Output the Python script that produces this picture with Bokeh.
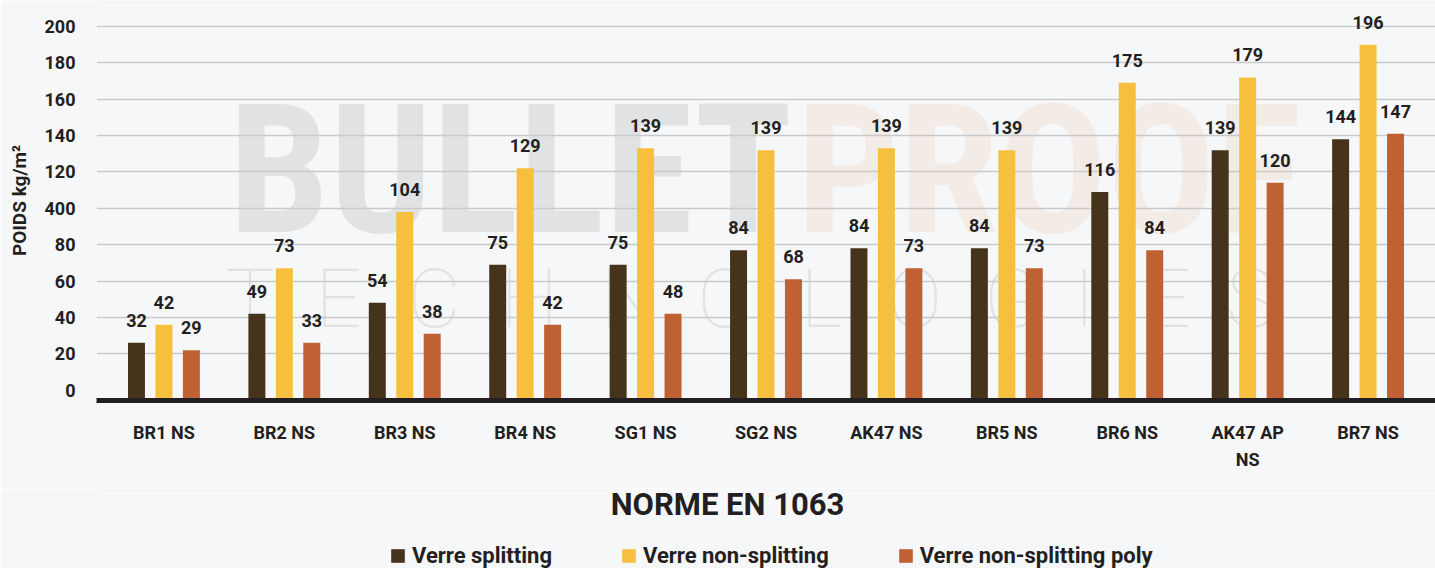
from bokeh.plotting import figure
from bokeh.layouts import column
from bokeh.models import (ColumnDataSource, FactorRange, Range1d, FixedTicker, LabelSet,
                          Label, Legend, LegendItem)
from bokeh.transform import dodge
from bokeh.core.properties import value
from bokeh.embed import file_html
from bokeh.resources import INLINE

# ---------------- data ----------------
categories = ["BR1 NS", "BR2 NS", "BR3 NS", "BR4 NS", "SG1 NS", "SG2 NS",
              "AK47 NS", "BR5 NS", "BR6 NS", "AK47 AP\nNS", "BR7 NS"]
series_names = ["Verre splitting", "Verre non-splitting", "Verre non-splitting poly"]

# bar heights as drawn
splitting = [26, 42, 48, 69, 69, 77, 78, 78, 109, 132, 138]
non_splitting = [36, 67, 98, 122, 133, 132, 133, 132, 169, 172, 190]
poly = [22, 26, 31, 36, 42, 61, 67, 67, 77, 114, 141]

# value labels as printed
splitting_labels = ["32", "49", "54", "75", "75", "84", "84", "84", "116", "139", "144"]
non_splitting_labels = ["42", "73", "104", "129", "139", "139", "139", "139", "175", "179", "196"]
poly_labels = ["29", "33", "38", "42", "48", "68", "73", "73", "84", "120", "147"]

y_ticks = [0, 20, 40, 60, 80, 100, 120, 140, 160, 180, 200]
y_tick_labels = ["0", "20", "40", "60", "80", "400", "120", "140", "160", "180", "200"]

y_axis_title = "POIDS kg/m²"
x_axis_title = "NORME EN 1063"
watermark_words = ["BULLET", "PROOF"]
watermark_sub = list("TECHNOLOGIES")

# ---------------- style ----------------
BG = "#f6f7f9"
TXT = "#231f20"
COLORS = ["#46331b", "#f7bf3e", "#c06133"]
FONT = "Roboto"
Y_MIN, Y_MAX = -5.7, 214.3
FRAME_LEFT = 96  # page x of the plot frame's left edge
W_TOTAL = 1435
FRAME_H = 400
BOTTOM = 88
H_FOOT = 80

src = ColumnDataSource(dict(cat=categories, s=splitting, n=non_splitting, p=poly,
                            sl=splitting_labels, nl=non_splitting_labels, pl=poly_labels))

p = figure(x_range=FactorRange(*categories, range_padding=0.0109),
           y_range=Range1d(Y_MIN, Y_MAX),
           width=W_TOTAL, frame_height=FRAME_H, output_backend="svg", toolbar_location=None,
           min_border_left=FRAME_LEFT, min_border_right=0, min_border_top=0, min_border_bottom=BOTTOM,
           background_fill_color=BG, border_fill_color=BG, outline_line_color=None)

# watermark (behind grid)
wm_colors = ["#e1e2e4", "#f3ebe5"]
wm_left = [228, 796]
for word, col, lx in zip(watermark_words, wm_colors, wm_left):
    p.add_layout(Label(x=lx - FRAME_LEFT, x_units="screen", y=120.8, y_units="data",
                       text=word, text_font="Roboto Condensed, Liberation Sans Narrow, DejaVu Sans Condensed, Roboto",
                       text_font_style="bold", text_font_size="180px", text_color=col,
                       text_align="left", text_baseline="alphabetic", level="image"))
sub_left = [225, 315, 407, 500, 600, 697, 800, 887, 983, 1073, 1144, 1226]
for ch, lx in zip(watermark_sub, sub_left):
    p.add_layout(Label(x=lx - FRAME_LEFT, x_units="screen", y=50.4, y_units="data",
                       text=ch, text_font="Roboto Thin, Lato Hairline, Lato Light, Roboto",
                       text_font_size="82px", text_color="#e1e2e4",
                       text_align="left", text_baseline="alphabetic", level="image"))

OFF = 0.228
W = 0.141
fields = ["s", "n", "p"]
lfields = ["sl", "nl", "pl"]
offsets = [-OFF, 0.0, OFF]
for f, lf, off, col in zip(fields, lfields, offsets, COLORS):
    p.vbar(x=dodge("cat", off, range=p.x_range), top=f, bottom=Y_MIN, width=W,
           source=src, fill_color=col, line_color=None)
    p.add_layout(LabelSet(x=dodge("cat", off, range=p.x_range), y=f, text=lf, source=src,
                          y_offset=16, text_align="center", text_baseline="alphabetic",
                          text_font=value(FONT), text_font_style="bold",
                          text_font_size="18px", text_color=TXT))

# grid
p.xgrid.visible = False
p.ygrid.ticker = FixedTicker(ticks=y_ticks[1:])
p.ygrid.grid_line_color = "#c8c9cb"
p.ygrid.grid_line_width = 1.5

# y axis
p.yaxis.ticker = FixedTicker(ticks=y_ticks)
p.yaxis.major_label_overrides = {t: lab for t, lab in zip(y_ticks, y_tick_labels)}
p.yaxis.axis_line_color = None
p.yaxis.major_tick_line_color = None
p.yaxis.minor_tick_line_color = None
p.yaxis.major_tick_out = 0
p.yaxis.major_tick_in = 0
p.yaxis.major_label_standoff = 21
p.yaxis.major_label_text_font = FONT
p.yaxis.major_label_text_font_style = "bold"
p.yaxis.major_label_text_font_size = "18px"
p.yaxis.major_label_text_color = TXT
p.yaxis.axis_label = y_axis_title
p.yaxis.axis_label_standoff = 11
p.yaxis.axis_label_text_font = FONT
p.yaxis.axis_label_text_font_style = "bold"
p.yaxis.axis_label_text_font_size = "19px"
p.yaxis.axis_label_text_color = TXT

# x axis
p.xaxis.axis_line_color = TXT
p.xaxis.axis_line_width = 5
p.xaxis.major_tick_line_color = None
p.xaxis.minor_tick_line_color = None
p.xaxis.major_label_standoff = 15
p.xaxis.major_label_text_font = FONT
p.xaxis.major_label_text_font_style = "bold"
p.xaxis.major_label_text_font_size = "18px"
p.xaxis.major_label_text_color = TXT
p.xaxis.major_label_text_line_height = 1.3

# ---------------- footer: title + legend ----------------
# frames of the column are aligned, so the footer frame starts at canvas x = FRAME_LEFT
f2 = figure(width=W_TOTAL, height=H_FOOT, x_range=Range1d(FRAME_LEFT, W_TOTAL),
            y_range=Range1d(0, H_FOOT),
            output_backend="svg", toolbar_location=None, x_axis_type=None, y_axis_type=None,
            min_border=0, background_fill_color=BG, border_fill_color=BG, outline_line_color=None)
f2.grid.visible = False

f2.add_layout(Label(x=727, y=64, text=x_axis_title, text_align="center",
                    text_baseline="middle", text_font=FONT, text_font_style="bold",
                    text_font_size="31px", text_color=TXT))

# legend swatch proxies (zero-size, never visible)
proxies = [f2.vbar(x=[0], top=[0], width=0, fill_color=c, line_color=None) for c in COLORS]
legend = Legend(items=[LegendItem(label=n, renderers=[r]) for n, r in zip(series_names, proxies)],
                orientation="horizontal", location=(389 - FRAME_LEFT, 0),
                glyph_width=17, glyph_height=17, label_height=17,
                label_text_font=FONT, label_text_font_style="bold", label_text_font_size="22px",
                label_text_line_height=1.0,
                label_text_color=TXT, spacing=68, label_standoff=6,
                background_fill_alpha=0, border_line_color=None, padding=0, margin=0)
f2.add_layout(legend, "center")

layout = column(p, f2, spacing=0)

html = file_html(layout, INLINE)
html = html.replace("<body>", '<body style="background:%s">' % BG, 1)
open("out.html", "w").write(html)
